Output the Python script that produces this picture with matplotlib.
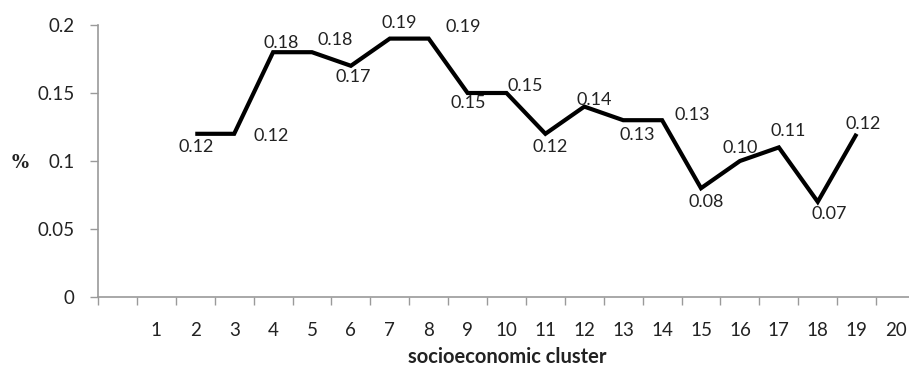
import matplotlib
matplotlib.use('Agg')
import matplotlib.pyplot as plt
import numpy as np

# socioeconomic clusters; the first category slot on the axis is left blank
CLUSTERS = list(range(1, 21))
DATA_CLUSTERS = list(range(2, 20))
SHARE = [0.12, 0.12, 0.18, 0.18, 0.17, 0.19, 0.19, 0.15, 0.15,
         0.12, 0.14, 0.13, 0.13, 0.08, 0.10, 0.11, 0.07, 0.12]

# where each data label sits relative to its point (pixels)
LABEL_OFFSETS = [(1, -13), (37, -2), (8, 9), (23, 12), (2, -11), (9, 16),
                 (35, 12), (1, -10), (19, 7), (5, -13), (10, 7), (14, -15),
                 (30, 5), (5, -14), (0, 13), (9, 16), (12, -12), (7, 10)]

FONT = 'Lato'
TEXT_COLOR = '#222222'
AXIS_COLOR = '#9a9a9a'

W, H = 909, 368
fig = plt.figure(figsize=(W / 100, H / 100), dpi=100)
ax = fig.add_axes([98 / W, 71 / H, (915 - 98) / W, 272 / H])

ax.plot(DATA_CLUSTERS, SHARE, color='black', linewidth=3.0,
        solid_joinstyle='miter', solid_capstyle='butt', zorder=3)

for xv, yv, (dx, dy) in zip(DATA_CLUSTERS, SHARE, LABEL_OFFSETS):
    ax.annotate(f'{yv:.2f}', (xv, yv), xytext=(dx, dy),
                textcoords='offset pixels', ha='center', va='center',
                fontsize=13, family=FONT, color=TEXT_COLOR, zorder=4)

ax.set_xlim(-0.5, 20.5)
ax.set_ylim(0, 0.2)

ax.set_yticks(np.arange(0, 0.201, 0.05))
ax.set_yticklabels(['0', '0.05', '0.1', '0.15', '0.2'])
ax.set_xticks(CLUSTERS)
ax.set_xticklabels([str(c) for c in CLUSTERS])
ax.set_xticks(np.arange(-0.5, 20.0, 1.0), minor=True)

ax.tick_params(axis='y', direction='out', length=6, width=1,
               color=AXIS_COLOR, pad=11, labelsize=13.5, labelcolor=TEXT_COLOR)
ax.tick_params(axis='x', which='major', length=0, pad=18,
               labelsize=13.5, labelcolor=TEXT_COLOR)
ax.tick_params(axis='x', which='minor', direction='out', length=6, width=1,
               color=AXIS_COLOR)
for lab in ax.get_xticklabels() + ax.get_yticklabels():
    lab.set_family(FONT)

for side in ('top', 'right'):
    ax.spines[side].set_visible(False)
for side in ('left', 'bottom'):
    ax.spines[side].set_color(AXIS_COLOR)
    ax.spines[side].set_linewidth(1.2)

fig.text(20 / W, 1 - 163 / H, '%', family='DejaVu Serif', fontweight='bold',
         fontsize=13, ha='center', va='center', color=TEXT_COLOR)
fig.text(507 / W, 1 - 357 / H, 'socioeconomic cluster', family=FONT,
         fontweight='bold', fontsize=14.5, ha='center', va='center',
         color=TEXT_COLOR)

fig.savefig('out.png', dpi=100)
